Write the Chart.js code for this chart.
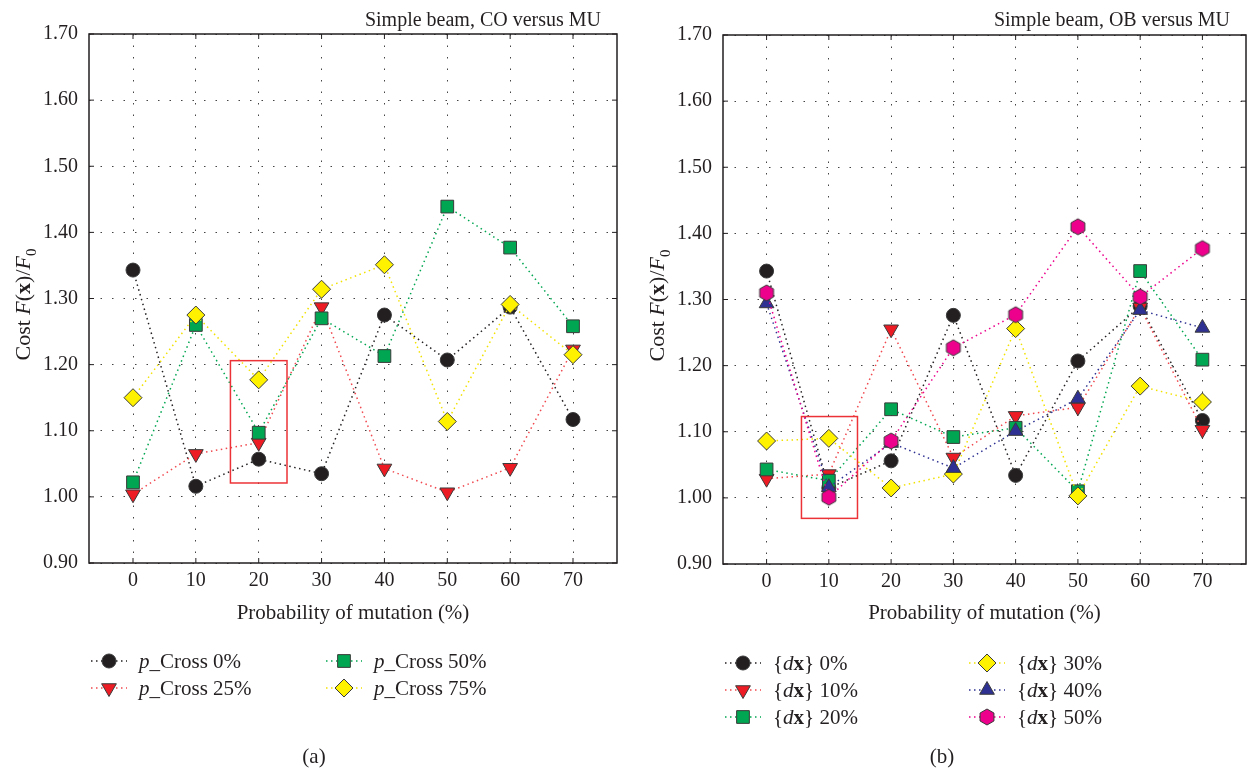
<!DOCTYPE html>
<html>
<head>
<meta charset="utf-8">
<script src="https://cdn.jsdelivr.net/npm/chart.js@4/dist/chart.umd.min.js"></script>
<style>
  html, body { margin: 0; padding: 0; background: #fff; }
  .panel { position: absolute; top: 0; width: 628px; height: 771px; }
</style>
</head>
<body>
<div class="panel" style="left:0"><canvas id="chartA" width="628" height="771"></canvas></div>
<div class="panel" style="left:628px"><canvas id="chartB" width="628" height="771"></canvas></div>
<script>
// x categories and y ticks shared by both panels
const mutation = [0, 10, 20, 30, 40, 50, 60, 70];
const yTicks = [0.9, 1.0, 1.1, 1.2, 1.3, 1.4, 1.5, 1.6, 1.7];

// (a) Simple beam, CO versus MU
const crossLabels = ['0%', '25%', '50%', '75%'];
const cross0  = [1.343, 1.016, 1.057, 1.035, 1.275, 1.207, 1.287, 1.117];
const cross25 = [1.004, 1.065, 1.082, 1.287, 1.043, 1.007, 1.044, 1.223];
const cross50 = [1.022, 1.260, 1.097, 1.270, 1.213, 1.439, 1.377, 1.258];
const cross75 = [1.150, 1.275, 1.177, 1.314, 1.351, 1.114, 1.291, 1.215];
const boxA = [15.5, 24.5, 1.021, 1.206]; // xMin, xMax, yMin, yMax

// (b) Simple beam, OB versus MU
const dxLabels = ['0%', '10%', '20%', '30%', '40%', '50%'];
const dx0  = [1.343, 1.015, 1.056, 1.276, 1.034, 1.207, 1.290, 1.117];
const dx10 = [1.029, 1.036, 1.255, 1.061, 1.124, 1.137, 1.288, 1.103];
const dx20 = [1.043, 1.026, 1.134, 1.092, 1.106, 1.010, 1.343, 1.209];
const dx30 = [1.086, 1.090, 1.015, 1.036, 1.256, 1.003, 1.169, 1.145];
const dx40 = [1.294, 1.016, 1.083, 1.045, 1.101, 1.150, 1.284, 1.257];
const dx50 = [1.310, 1.001, 1.086, 1.227, 1.277, 1.410, 1.304, 1.377];
const boxB = [5.6, 14.6, 0.969, 1.123];

const SERIF = '"Liberation Serif", "DejaVu Serif", serif';
const INK = '#231f20';

const markBlack  = { shape: 'circle',   r: 7,   fill: '#231f20', line: '#231f20' };
const markRed    = { shape: 'triangle', r: 8.5, fill: '#ed1c24', line: '#f0484e', rot: 180 };
const markGreen  = { shape: 'rect',     r: 9,   fill: '#00a651', line: '#00a651' };
const markYellow = { shape: 'rectRot',  r: 9,   fill: '#fff200', line: '#f2e200' };
const markBlue   = { shape: 'triangle', r: 8.5, fill: '#2e3192', line: '#2e3192' };
const markPink   = { shape: 'hexagon',  r: 8,   fill: '#ec008c', line: '#ec008c' };

function hexagon(r, fill) {
  const c = document.createElement('canvas');
  const s = Math.ceil(2 * r + 4);
  c.width = c.height = s;
  const g = c.getContext('2d');
  g.beginPath();
  for (let k = 0; k < 6; k++) {
    const ang = Math.PI / 2 + k * Math.PI / 3;
    const px = s / 2 + r * Math.cos(ang), py = s / 2 - r * Math.sin(ang);
    if (k) g.lineTo(px, py); else g.moveTo(px, py);
  }
  g.closePath();
  g.fillStyle = fill;
  g.fill();
  g.lineWidth = 1;
  g.strokeStyle = '#3a3a3a';
  g.stroke();
  return c;
}

function dataset(label, values, st, i, n) {
  return {
    label: label,
    data: mutation.map((m, k) => ({ x: m, y: values[k] })),
    borderColor: st.line,
    borderWidth: 1.5,
    borderDash: [1.5, 3.5],
    pointStyle: st.shape === 'hexagon' ? hexagon(st.r, st.fill) : st.shape,
    pointRotation: st.rot || 0,
    pointRadius: st.r,
    pointHoverRadius: st.r,
    pointBackgroundColor: st.fill,
    pointBorderColor: '#3a3a3a',
    pointBorderWidth: 1,
    order: n - i, // later series sit on top
    tension: 0,
    fill: false
  };
}

// draw text made of plain / italic / bold / subscript pieces
function fontFor(st, size) {
  const s = st === 's' ? Math.round(size * 0.7) : size;
  return (st === 'i' ? 'italic ' : st === 'b' ? 'bold ' : '') + s + 'px ' + SERIF;
}
function drawRich(ctx, segs, x, y, size, align) {
  let total = 0;
  segs.forEach(([t, st]) => { ctx.font = fontFor(st, size); total += ctx.measureText(t).width; });
  let cx = align === 'center' ? x - total / 2 : align === 'right' ? x - total : x;
  ctx.textAlign = 'left';
  ctx.textBaseline = 'alphabetic';
  segs.forEach(([t, st]) => {
    ctx.font = fontFor(st, size);
    ctx.fillText(t, cx, st === 's' ? y + size * 0.28 : y);
    cx += ctx.measureText(t).width;
  });
}

function decor(spec) {
  return {
    id: 'decor',
    beforeDatasetsDraw(chart) {
      const { ctx, chartArea: a, scales: { x, y } } = chart;
      ctx.save();
      ctx.strokeStyle = INK;
      ctx.lineWidth = 1;
      ctx.beginPath();
      mutation.forEach(v => {
        const px = x.getPixelForValue(v);
        ctx.moveTo(px, a.bottom); ctx.lineTo(px, a.bottom - 5);
        ctx.moveTo(px, a.top); ctx.lineTo(px, a.top + 5);
      });
      yTicks.forEach(v => {
        const py = y.getPixelForValue(v);
        ctx.moveTo(a.left, py); ctx.lineTo(a.left + 5, py);
        ctx.moveTo(a.right, py); ctx.lineTo(a.right - 5, py);
      });
      ctx.stroke();
      ctx.lineWidth = 1.5;
      ctx.strokeRect(a.left, a.top, a.right - a.left, a.bottom - a.top);
      ctx.restore();
    },
    afterDatasetsDraw(chart) {
      const { ctx, scales: { x, y } } = chart;
      const b = spec.box;
      const x0 = x.getPixelForValue(b[0]), x1 = x.getPixelForValue(b[1]);
      const y0 = y.getPixelForValue(b[3]), y1 = y.getPixelForValue(b[2]);
      ctx.save();
      ctx.strokeStyle = '#ec3237';
      ctx.lineWidth = 1.5;
      ctx.strokeRect(x0, y0, x1 - x0, y1 - y0);
      ctx.restore();
    },
    afterDraw(chart) {
      const { ctx, chartArea: a } = chart;
      ctx.save();
      ctx.fillStyle = INK;
      // panel title
      drawRich(ctx, [[spec.title, 'n']], a.right - 16, 26, 20, 'right');
      // axis titles
      drawRich(ctx, [['Probability of mutation (%)', 'n']], (a.left + a.right) / 2, 619, 21, 'center');
      ctx.save();
      ctx.translate(a.left - 59, (a.top + a.bottom) / 2 + 6);
      ctx.rotate(-Math.PI / 2);
      drawRich(ctx, [['Cost ', 'n'], ['F', 'i'], ['(', 'n'], ['x', 'b'], [')/', 'n'], ['F', 'i'], ['0', 's']], 0, 0, 22, 'center');
      ctx.restore();
      // legend
      const sets = chart.data.datasets;
      sets.forEach((ds, i) => {
        const [col, row] = spec.slots[i];
        const lx = a.left + spec.legendCols[col];
        const ly = spec.legendRows[row];
        ctx.save();
        ctx.strokeStyle = ds.borderColor;
        ctx.lineWidth = 1.5;
        ctx.setLineDash([1.5, 3.5]);
        ctx.beginPath();
        ctx.moveTo(lx, ly); ctx.lineTo(lx + 36, ly);
        ctx.stroke();
        ctx.setLineDash([]);
        ctx.fillStyle = ds.pointBackgroundColor;
        ctx.strokeStyle = ds.pointBorderColor;
        ctx.lineWidth = 1;
        Chart.helpers.drawPoint(ctx, {
          pointStyle: ds.pointStyle, rotation: ds.pointRotation,
          radius: ds.pointRadius, borderWidth: 1
        }, lx + 18, ly);
        ctx.restore();
        drawRich(ctx, spec.legendText(i), lx + 48, ly + 7, 21, 'left');
      });
      // panel caption
      drawRich(ctx, [[spec.caption, 'n']], chart.width / 2, 763, 21, 'center');
      ctx.restore();
    }
  };
}

function build(id, spec) {
  const tickFont = { family: SERIF, size: 20 };
  return new Chart(document.getElementById(id), {
    type: 'line',
    data: { datasets: spec.datasets },
    options: {
      responsive: false,
      animation: false,
      devicePixelRatio: 1,
      layout: { padding: { top: spec.top, right: spec.right, bottom: 0, left: 0 } },
      plugins: { legend: { display: false }, tooltip: { enabled: false } },
      scales: {
        x: {
          type: 'linear', min: -7, max: 77,
          afterBuildTicks: s => { s.ticks = mutation.map(v => ({ value: v })); },
          afterFit: s => { s.height = 771 - spec.bottom; },
          grid: { color: '#444', lineWidth: 1, drawTicks: false },
          border: { display: false, dash: [1.5, 10] },
          ticks: { color: INK, font: tickFont, padding: 6, maxRotation: 0, autoSkip: false }
        },
        y: {
          type: 'linear', min: 0.9, max: 1.7,
          afterBuildTicks: s => { s.ticks = yTicks.map(v => ({ value: v })); },
          afterFit: s => { s.width = spec.yWidth; },
          grid: { color: '#444', lineWidth: 1, drawTicks: false },
          border: { display: false, dash: [1.5, 10] },
          ticks: { color: INK, font: tickFont, padding: 11, callback: v => v.toFixed(2) }
        }
      }
    },
    plugins: [decor(spec)]
  });
}

const seriesA = [cross0, cross25, cross50, cross75];
const marksA = [markBlack, markRed, markGreen, markYellow];
build('chartA', {
  title: 'Simple beam, CO versus MU',
  caption: '(a)',
  box: boxA,
  top: 34, bottom: 563, yWidth: 89, right: 11,
  datasets: seriesA.map((v, i) => dataset('p_Cross ' + crossLabels[i], v, marksA[i], i, seriesA.length)),
  slots: [[0, 0], [0, 1], [1, 0], [1, 1]],
  legendCols: [2, 237],
  legendRows: [661, 688],
  legendText: i => [['p', 'i'], ['_Cross ' + crossLabels[i], 'n']]
});

const seriesB = [dx0, dx10, dx20, dx30, dx40, dx50];
const marksB = [markBlack, markRed, markGreen, markYellow, markBlue, markPink];
build('chartB', {
  title: 'Simple beam, OB versus MU',
  caption: '(b)',
  box: boxB,
  top: 35, bottom: 564, yWidth: 95, right: 4,
  datasets: seriesB.map((v, i) => dataset('{dx} ' + dxLabels[i], v, marksB[i], i, seriesB.length)),
  slots: [[0, 0], [0, 1], [0, 2], [1, 0], [1, 1], [1, 2]],
  legendCols: [2, 246],
  legendRows: [663, 690, 717],
  legendText: i => [['{', 'n'], ['d', 'i'], ['x', 'b'], ['} ' + dxLabels[i], 'n']]
});
</script>
</body>
</html>
